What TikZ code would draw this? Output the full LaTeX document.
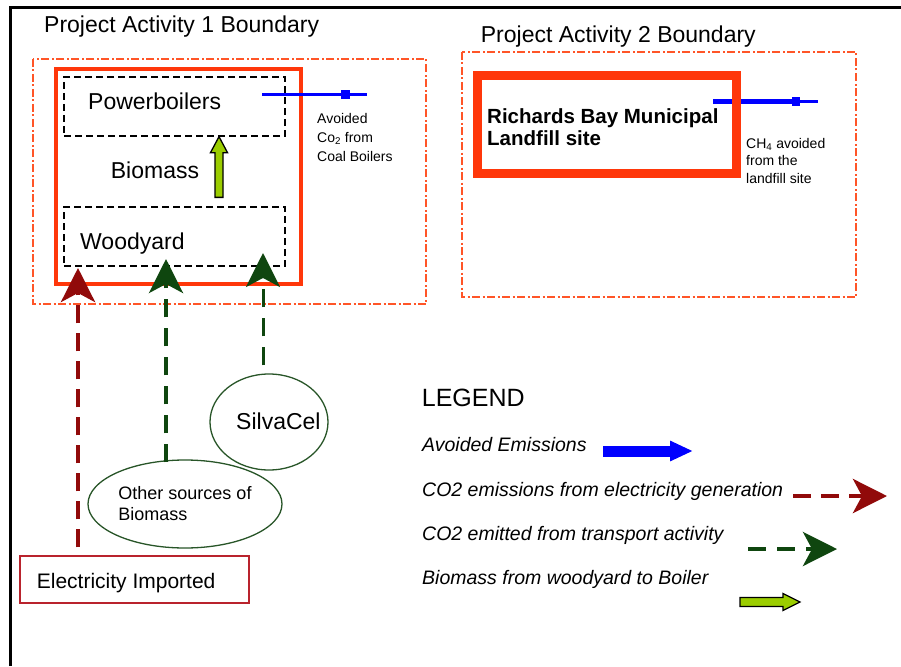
\documentclass[tikz,border=0pt]{standalone}
\usepackage{fontspec}
\setmainfont{Liberation Sans}
\usetikzlibrary{arrows.meta,calc,shapes.geometric}

\definecolor{bndorange}{RGB}{255,85,40}
\definecolor{boxred}{RGB}{255,55,10}
\definecolor{elecred}{RGB}{145,10,10}
\definecolor{trgreen}{RGB}{15,70,15}
\definecolor{ellgreen}{RGB}{40,85,40}
\definecolor{biolime}{RGB}{155,205,0}
\definecolor{impred}{RGB}{185,35,45}

\begin{document}
\begin{tikzpicture}[
    x=1pt, y=-1pt, line join=miter,
    bnd/.style={draw=bndorange, line width=1.4pt, dash pattern=on 8pt off 2.5pt on 2pt off 2.5pt},
    site/.style={draw=boxred, line width=#1},
    unit/.style={rectangle, draw=black, line width=1.3pt, dash pattern=on 7pt off 4pt,
                 minimum width=221pt, minimum height=59pt, inner sep=0pt},
    src/.style={ellipse, draw=ellgreen, line width=1.3pt, inner sep=0pt},
    lbl/.style={inner sep=0pt, anchor=base west, font=\fontsize{23}{27}\selectfont},
    small/.style={inner sep=0pt, anchor=base west, align=left, font=\fontsize{14}{19}\selectfont},
    leg/.style={inner sep=0pt, anchor=base west, font=\fontsize{19.5}{24}\selectfont\itshape},
    avoided/.style={draw=blue, line width=#1},
    elec/.style={draw=elecred, line width=4.5pt, dash pattern=on 18pt off 10pt,
                 -{Stealth[length=34pt, width=34pt, inset=9pt]}},
    trans/.style={draw=trgreen, line width=#1, dash pattern=on 18pt off 11pt,
                  -{Stealth[length=34pt, width=34pt, inset=9pt]}},
    bio/.style={draw=black, line width=1.3pt, fill=biolime},
  ]
  \useasboundingbox (0,0) rectangle (901,666);

  % --- page frame ---
  \draw[line width=3pt] (10,666) -- (10,8) -- (901,8);

  % --- project activity 1 ---
  \node[lbl] (title1) at (44,33) {Project Activity 1 Boundary};
  \draw[bnd] (33,59) rectangle (426,304);
  \draw[site=4pt] (56,69) rectangle (301,284);
  \node[unit] (boil) at (174.5,106.5) {};
  \node[unit] (wood) at (174.5,236.5) {};
  \node[lbl] (boiltxt) at (88,110) {Powerboilers};
  \node[lbl] (biotxt) at (110.7,178) {Biomass};
  \node[lbl] (woodtxt) at (80,249) {Woodyard};

  % biomass block arrow, woodyard -> powerboilers
  \coordinate (bt) at ($(wood.north)+(44.5,-9)$);
  \coordinate (bh) at ($(boil.south)+(44.5,0)$);
  \draw[bio] ($(bt)+(-4,0)$) -- ($(bh)+(-4,16)$) -- ($(bh)+(-8.5,16)$) -- (bh)
    -- ($(bh)+(8.5,16)$) -- ($(bh)+(4,16)$) -- ($(bt)+(4,0)$) -- cycle;

  % avoided CO2 from coal boilers
  \coordinate (av1s) at (262,95);
  \coordinate (av1m) at (350,95);
  \coordinate (av1e) at (367,95);
  \draw[avoided=3pt, -{Rectangle[length=9pt, width=9pt]}] (av1s) -- (av1m);
  \draw[avoided=3pt] (av1m) -- (av1e);
  \node[small] (av1txt) at (317,161) {Avoided\\Co\textsubscript{2} from\\Coal Boilers};

  % --- project activity 2 ---
  \node[lbl] (title2) at (480.7,43) {Project Activity 2 Boundary};
  \draw[bnd] (462,52) rectangle (856,297);
  \coordinate (av2s) at (713,102);
  \coordinate (av2m) at (800,102);
  \coordinate (av2e) at (818,102);
  \draw[avoided=5pt, -{Rectangle[length=8pt, width=9pt]}] (av2s) -- (av2m);
  \draw[avoided=3pt] (av2m) -- (av2e);
  \draw[site=9pt] (477.5,75.5) rectangle (736.5,173.5);
  \node[lbl, align=left, font=\fontsize{20.5}{22}\selectfont\bfseries] (landfill) at (487,145)
    {Richards Bay Municipal\\Landfill site};
  \node[small, font=\fontsize{14}{17.5}\selectfont] (ch4txt) at (746,183)
    {CH\textsubscript{4} avoided\\from the\\landfill site};

  % --- sources ---
  \node[src, minimum width=118pt, minimum height=96pt] (silva) at (269,422) {};
  \node[lbl] (silvatxt) at (236,429) {SilvaCel};
  \node[src, minimum width=194pt, minimum height=88pt, align=left,
        font=\fontsize{18}{21}\selectfont] (other) at (185,504) {Other sources of\\Biomass};
  \node[draw=impred, line width=1.3pt, minimum width=229pt, minimum height=47pt,
        inner sep=0pt] (imp) at (134.5,579.5) {};
  \node[lbl, font=\fontsize{21}{25}\selectfont] (imptxt) at (36.7,588) {Electricity Imported};

  % --- flows into the woodyard ---
  \coordinate (tipE) at (78,268);
  \coordinate (tipO) at (166,259);
  \coordinate (tipS) at (263,253);
  \draw[elec] ($(imp.north -| tipE)+(0,-8)$) -- (tipE);
  \draw[trans=4pt] ($(other.north -| tipO)+(0,3)$) -- (tipO);
  \draw[trans=3pt] ($(silva.north -| tipS)+(0,-8)$) -- (tipS);

  % --- legend ---
  \node[lbl, font=\fontsize{25}{30}\selectfont] (legend) at (421.7,406) {LEGEND};
  \foreach \n/\yb/\txt in {1/451/Avoided Emissions,
      2/496/CO2 emissions from electricity generation,
      3/540/CO2 emitted from transport activity,
      4/584/Biomass from woodyard to Boiler}{
    \node[leg] (leg\n) at (422,\yb) {\txt};
  }
  \coordinate (l1s) at (603,451);
  \coordinate (l1e) at (693,451);
  \draw[avoided=11pt, -{Triangle[length=23pt, width=19pt]}] (l1s) -- (l1e);
  \coordinate (l2s) at (793,496);
  \coordinate (l2e) at (887,496);
  \draw[elec] (l2s) -- (l2e);
  \coordinate (l3s) at (748,549);
  \coordinate (l3e) at (837,549);
  \draw[trans=4pt] (l3s) -- (l3e);
  \coordinate (lt) at (740,602);
  \coordinate (lh) at (800,602);
  \draw[bio] ($(lt)+(0,-4.5)$) -- ($(lh)+(-17,-4.5)$) -- ($(lh)+(-17,-8.5)$) -- (lh)
    -- ($(lh)+(-17,8.5)$) -- ($(lh)+(-17,4.5)$) -- ($(lt)+(0,4.5)$) -- cycle;
\end{tikzpicture}
\end{document}
